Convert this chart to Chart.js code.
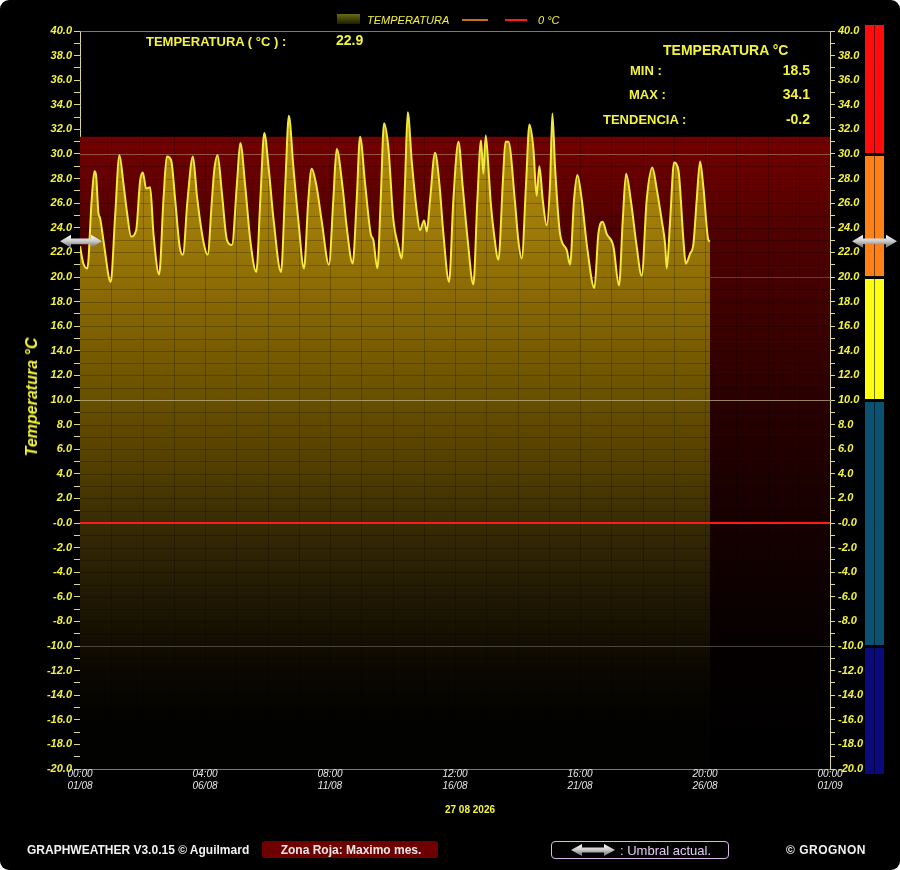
<!DOCTYPE html>
<html><head><meta charset="utf-8">
<script src="https://cdn.jsdelivr.net/npm/chart.js@4.4.1/dist/chart.umd.min.js"></script>
<style>
html,body{margin:0;padding:0;background:#fff;}
#frame{position:relative;width:900px;height:870px;background:#000;border-radius:9px;overflow:hidden;font-family:"Liberation Sans",Arial,sans-serif;}
#c{position:absolute;left:0;top:0;}
.t{position:absolute;white-space:nowrap;color:#f4f43c;font-weight:bold;line-height:1;}
</style></head><body>
<div id="frame">
<canvas id="c" width="900" height="870"></canvas>

<!-- legend -->
<div style="position:absolute;left:337px;top:14px;width:23px;height:10px;background:linear-gradient(#6a6a14,#1e1e00);"></div>
<div class="t" style="left:367px;top:15px;font-size:11px;font-style:italic;font-weight:normal;color:#f4f43c;">TEMPERATURA</div>
<div style="position:absolute;left:462px;top:19px;width:26px;height:2px;background:#c07018;"></div>
<div style="position:absolute;left:505px;top:19px;width:22px;height:2px;background:#ff1a1a;"></div>
<div class="t" style="left:538px;top:15px;font-size:11px;font-style:italic;font-weight:normal;">0 °C</div>

<!-- stats -->
<div class="t" id="lblCur" style="left:146px;top:35px;font-size:13px;">TEMPERATURA ( °C ) :</div>
<div class="t" id="valCur" style="left:336px;top:33px;font-size:14px;"></div>
<div class="t" style="left:663px;top:43px;font-size:14px;">TEMPERATURA °C</div>
<div class="t" style="left:630px;top:64px;font-size:13px;">MIN :</div>
<div class="t" id="valMin" style="right:90px;top:63px;font-size:14px;"></div>
<div class="t" style="left:629px;top:88px;font-size:13px;">MAX :</div>
<div class="t" id="valMax" style="right:90px;top:87px;font-size:14px;"></div>
<div class="t" style="left:603px;top:113px;font-size:13px;">TENDENCIA :</div>
<div class="t" id="valTrend" style="right:90px;top:112px;font-size:14px;"></div>

<!-- y title -->
<div class="t" style="left:32px;top:397px;font-size:16px;font-style:italic;transform:translate(-50%,-50%) rotate(-90deg);">Temperatura °C</div>

<!-- date -->
<div class="t" id="dateLbl" style="left:470px;top:805px;font-size:10px;transform:translateX(-50%);color:#f6f63a;"></div>

<!-- footer -->
<div class="t" style="left:27px;top:844px;font-size:12px;color:#f2f2f2;">GRAPHWEATHER V3.0.15 © Aguilmard</div>
<div style="position:absolute;left:262px;top:841px;width:176px;height:17px;background:#6e0000;border-radius:3px;"></div>
<div class="t" style="left:351px;top:844px;font-size:12px;color:#f0e8e8;transform:translateX(-50%);">Zona Roja: Maximo mes.</div>
<div style="position:absolute;left:551px;top:841px;width:176px;height:16px;border:1px solid #d8b8e8;border-radius:4px;"></div>
<svg style="position:absolute;left:571px;top:843px" width="44" height="14"><defs><linearGradient id="ag" x1="0" y1="0" x2="0" y2="1"><stop offset="0" stop-color="#ffffff"/><stop offset="0.5" stop-color="#c8c8c8"/><stop offset="1" stop-color="#6a6a6a"/></linearGradient></defs><polygon points="0,7 11,1 11,4.5 33,4.5 33,1 44,7 33,13 33,9.5 11,9.5 11,13" fill="url(#ag)"/></svg>
<div class="t" style="left:620px;top:844px;font-size:13px;color:#e4c8f4;font-weight:normal;">: Umbral actual.</div>
<div class="t" style="left:786px;top:844px;font-size:12px;letter-spacing:0.5px;color:#f2f2f2;">© GROGNON</div>
</div>

<script>
// ---------------- data ----------------
const hours = [0,3.3,7.3,11.6,14.3,15.9,18.3,19.9,23.2,30.5,
34.8,39.1,43.1,46.4,50.7,55.7,59.6,62.3,65.6,69.6,
72.9,78.5,82.8,86.1,90.4,94.4,98.8,102.1,106.7,112,
116,122.6,126.6,130.9,133.2,136.5,140.8,145.8,150.7,155.7,
159,164,168.9,174.9,178.9,182.8,187.1,192.1,199.4,203.7,
207.2,211.6,216.6,222.2,226.5,229.8,234.8,239.7,247,251.3,
254.6,260.6,264.5,270.5,274.5,277.8,282.8,288.4,291,295,
298.3,301.6,305.9,310.9,315.8,319.1,322.4,325.1,329.1,334,
337.3,341.3,344,347.3,352.2,356.5,360.5,366.1,370.4,375.4,
379.7,384.6,390.2,394.2,397.8,400.1,402.5,405.1,407.4,410.7,
415.1,419.4,422,425,431.5,434.8,438.2,442.5,445.8,449.7,
453,455.7,459,463,466.3,468.6,471.2,476.2,482.8,486.1,
490.1,493.4,497.7,503.4,510.3,514.2,518.5,522.5,529.1,534.7,
538.4,541.7,546.3,552.2,557.2,562.2,567.8,572.2,577.1,580.4,
582.1,585.4,589.3,593.6,598.6,600.9,605.2,608.5,611.8,615.1,
618.4,623.4,625];
const temps = [22.5,21.1,20.7,26.3,28.6,28.3,25.2,24.8,23.0,19.6,
24.9,29.9,27.6,25.4,23.3,23.8,27.8,28.5,27.2,27.3,
23.5,20.2,26.3,29.8,29.5,26.3,22.5,21.8,26.3,29.8,
26.6,22.8,21.8,26.3,28.7,29.9,26.8,23.0,22.6,27.6,
30.9,27.3,23.0,20.4,26.3,31.7,28.9,24.6,20.4,27.6,
33.1,29.0,24.6,20.7,26.3,28.8,27.3,24.6,21.0,26.3,
30.4,27.2,24.1,21.1,26.3,31.4,27.6,23.5,23.0,20.7,
26.3,32.5,30.5,24.6,22.5,21.5,27.6,33.4,29.4,25.4,
23.8,24.6,23.7,26.3,30.1,27.6,23.5,19.6,26.3,31.0,
27.3,23.0,19.4,26.3,31.1,28.4,31.5,29.0,26.1,23.5,
21.4,27.6,31.0,31.0,26.1,23.0,21.5,27.6,32.4,30.5,
26.6,29.0,26.3,24.2,27.6,33.3,29.0,23.5,22.2,21.0,
26.3,28.3,26.3,22.2,19.1,23.5,24.5,23.5,22.5,19.3,
24.6,28.4,26.3,22.5,20.1,26.3,28.9,27.1,24.6,22.7,
20.7,24.6,29.3,28.7,23.0,21.1,21.9,22.7,26.3,29.4,
27.3,23.0,22.9];
const xTickLabels = [['00:00','01/08'],['04:00','06/08'],['08:00','11/08'],['12:00','16/08'],['16:00','21/08'],['20:00','26/08'],['00:00','01/09']];
const xMax = 744;          // hours in the month
const xLabelStep = 124;    // hours between labelled ticks
const xGridStep = 31;      // hours between vertical grid lines
const yMin = -20, yMax = 40;
const currentValue = 22.9;
const statMin = 18.5, statMax = 34.1, trend = -0.2;
const redZoneTop = 31.4;
const colorBandRanges = [[30,40],[20,30],[10,20],[-10,10],[-20,-10]];
const colorBandColors = ['#ff0c0c','#ff8014','#ffff14','#0b5272','#0a0a7c'];
const dateText = '27 08 2026';

document.getElementById('valCur').textContent = currentValue.toFixed(1);
document.getElementById('valMin').textContent = statMin.toFixed(1);
document.getElementById('valMax').textContent = statMax.toFixed(1);
document.getElementById('valTrend').textContent = trend.toFixed(1);
document.getElementById('dateLbl').textContent = dateText;

const points = hours.map((h,i)=>({x:h, y:temps[i]}));

function fillGradient(chart){
  const {ctx, chartArea, scales} = chart;
  if(!chartArea) return 'rgba(150,120,0,0.8)';
  const y = scales.y;
  const top = y.getPixelForValue(34), bot = y.getPixelForValue(-16);
  const g = ctx.createLinearGradient(0, top, 0, bot);
  const stops = [[34,'rgb(182,144,16)'],[24,'rgb(158,122,8)'],[12,'rgb(112,86,0)'],[4,'rgb(80,61,0)'],[0,'rgb(56,43,4)'],[-6,'rgb(32,24,3)'],[-12,'rgb(11,8,0)'],[-16,'rgb(2,2,0)']];
  stops.forEach(([v,c])=>g.addColorStop((y.getPixelForValue(v)-top)/(bot-top), c));
  return g;
}

function drawArrow(ctx, x1, x2, yc){
  const hl = 11, hh = 6.5, sh = 2.8;
  const g = ctx.createLinearGradient(0, yc-hh, 0, yc+hh);
  g.addColorStop(0,'#ffffff'); g.addColorStop(0.5,'#c8c8c8'); g.addColorStop(1,'#666666');
  ctx.beginPath();
  ctx.moveTo(x1, yc); ctx.lineTo(x1+hl, yc-hh); ctx.lineTo(x1+hl, yc-sh);
  ctx.lineTo(x2-hl, yc-sh); ctx.lineTo(x2-hl, yc-hh); ctx.lineTo(x2, yc);
  ctx.lineTo(x2-hl, yc+hh); ctx.lineTo(x2-hl, yc+sh); ctx.lineTo(x1+hl, yc+sh);
  ctx.lineTo(x1+hl, yc+hh); ctx.closePath();
  ctx.fillStyle = g; ctx.fill();
}

function hLine(ctx, a, py, color, w){
  ctx.strokeStyle = color; ctx.lineWidth = w||1;
  ctx.beginPath(); ctx.moveTo(a.left, Math.round(py)+0.5); ctx.lineTo(a.right, Math.round(py)+0.5); ctx.stroke();
}

const decor = {
  id:'decor',
  beforeDatasetsDraw(chart){
    const {ctx, chartArea:a, scales:{y}} = chart;
    ctx.save();
    const top = y.getPixelForValue(redZoneTop), bot = y.getPixelForValue(yMin);
    const g = ctx.createLinearGradient(0, top, 0, bot);
    g.addColorStop(0,'rgb(116,0,0)'); g.addColorStop(0.15,'rgb(80,0,0)');
    g.addColorStop(0.45,'rgb(38,0,0)'); g.addColorStop(0.8,'rgb(6,0,0)'); g.addColorStop(1,'rgb(0,0,0)');
    ctx.fillStyle = g; ctx.fillRect(a.left, top, a.right-a.left, bot-top);
    hLine(ctx, a, y.getPixelForValue(20), 'rgba(170,170,170,0.5)');
    ctx.restore();
  },
  beforeDatasetDraw(chart, args){
    if(args.index !== 2) return;
    const {ctx, chartArea:a, scales:{x,y}} = chart;
    ctx.save();
    ctx.strokeStyle = 'rgba(0,0,0,0.22)'; ctx.lineWidth = 1;
    ctx.beginPath();
    for(let v=yMin+1; v<yMax; v++){ const py=Math.round(y.getPixelForValue(v))+0.5; ctx.moveTo(a.left,py); ctx.lineTo(a.right,py); }
    for(let h=xGridStep; h<xMax; h+=xGridStep){ const px=Math.round(x.getPixelForValue(h))+0.5; ctx.moveTo(px,a.top); ctx.lineTo(px,a.bottom); }
    ctx.stroke();
    hLine(ctx, a, y.getPixelForValue(30), 'rgba(210,170,130,0.5)');
    hLine(ctx, a, y.getPixelForValue(10), 'rgba(225,215,160,0.6)');
    hLine(ctx, a, y.getPixelForValue(-10), 'rgba(150,150,140,0.45)');
    ctx.restore();
  },
  afterDatasetsDraw(chart){
    const {ctx, chartArea:a, scales:{y}} = chart;
    ctx.save();
    hLine(ctx, a, y.getPixelForValue(yMax), 'rgba(150,150,150,0.8)');
    const bx = 865, bw = 19;
    colorBandRanges.forEach(([lo,hi],i)=>{
      let t = y.getPixelForValue(hi) + (hi===yMax ? -6 : 2);
      let b = y.getPixelForValue(lo) + (lo===yMin ? 5 : -1);
      ctx.fillStyle = colorBandColors[i]; ctx.fillRect(bx, t, bw, b-t);
    });
    ctx.fillStyle = 'rgba(0,0,0,0.55)';
    ctx.fillRect(bx+9, y.getPixelForValue(yMax)-6, 1, y.getPixelForValue(yMin)-y.getPixelForValue(yMax)+11);
    const cy = y.getPixelForValue(currentValue);
    drawArrow(ctx, 60, 102, cy);
    drawArrow(ctx, 852, 897, cy);
    ctx.restore();
  }
};

function fmtY(v){ if(Math.round(v)%2!==0) return ''; return v===0 ? '-0.0' : v.toFixed(1); }
const tickFont = {family:'"Liberation Sans", Arial, sans-serif', size:11, style:'italic', weight:'bold'};

new Chart(document.getElementById('c'), {
  type:'line',
  data:{ datasets:[
    {label:'TEMPERATURA', data:points, borderColor:'#f2ea3a', borderWidth:2, pointRadius:0, fill:false, cubicInterpolationMode:'monotone', order:0},
    {label:'fill', data:points, borderWidth:0, borderColor:'rgba(0,0,0,0)', pointRadius:0, fill:'start', backgroundColor:(c)=>fillGradient(c.chart), cubicInterpolationMode:'monotone', order:2},
    {label:'0 °C', data:[{x:0,y:0},{x:xMax,y:0}], borderColor:'#ff1a1a', borderWidth:2, pointRadius:0, fill:false, order:1}
  ]},
  options:{
    responsive:false, animation:false, devicePixelRatio:1,
    layout:{padding:{top:31,left:0,right:0,bottom:0}},
    plugins:{legend:{display:false}, tooltip:{enabled:false}},
    scales:{
      x:{type:'linear', min:0, max:xMax,
        afterFit(s){ s.height = 101; },
        afterBuildTicks(s){ s.ticks = []; for(let h=0; h<=xMax; h+=xGridStep) s.ticks.push({value:h}); },
        ticks:{autoSkip:false, maxRotation:0, padding:-1, color:'#e6e6e6',
          font:{family:'"Liberation Sans", Arial, sans-serif', size:10, style:'italic'},
          callback:(v)=> (v % xLabelStep === 0) ? xTickLabels[v/xLabelStep] : ''},
        grid:{drawOnChartArea:false, drawTicks:false},
        border:{color:'rgba(150,150,150,0.8)', width:1}
      },
      y:{type:'linear', position:'left', min:yMin, max:yMax,
        afterFit(s){ s.width = 80; },
        ticks:{stepSize:1, autoSkip:false, padding:2, color:'#f4f440', font:tickFont, callback:fmtY},
        grid:{drawOnChartArea:false, drawTicks:true, tickLength:6, tickColor:'#d8d890'},
        border:{color:'#d8d890', width:1}
      },
      y2:{type:'linear', position:'right', min:yMin, max:yMax,
        afterFit(s){ s.width = 70; },
        ticks:{stepSize:1, autoSkip:false, padding:3, color:'#f4f440', font:tickFont, callback:fmtY},
        grid:{drawOnChartArea:false, drawTicks:true, tickLength:5, tickColor:'#d8d890'},
        border:{color:'#d8d890', width:1}
      }
    }
  },
  plugins:[decor]
});
</script>
</body></html>
